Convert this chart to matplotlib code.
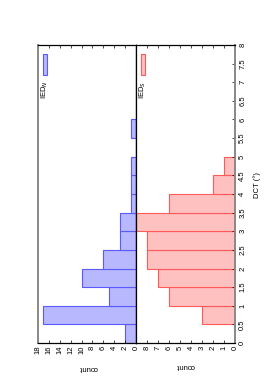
import matplotlib.pyplot as plt
from matplotlib.patches import Rectangle
import numpy as np

plt.rcParams['font.family'] = ['Liberation Sans', 'DejaVu Sans']

bin_edges = np.arange(0, 6, 0.5)
ied_n = [2, 17, 5, 10, 6, 3, 3, 1, 1, 1, 0, 1]
ied_s = [0, 3, 6, 7, 8, 8, 9, 6, 2, 1, 0, 0]

W, H = 273, 389
fig = plt.figure(figsize=(W / 100, H / 100), dpi=100)

y0, y1 = 343, 45
ax_n = fig.add_axes([38 / W, (H - y0) / H, 98 / W, (y0 - y1) / H])
ax_s = fig.add_axes([136 / W, (H - y0) / H, 99 / W, (y0 - y1) / H])

fs = 5.5
ax_n.barh(bin_edges, ied_n, height=0.5, align='edge',
          color='#b8b8ff', edgecolor='#5a5aff', linewidth=0.8)
ax_s.barh(bin_edges, ied_s, height=0.5, align='edge',
          color='#ffc0c0', edgecolor='#ff5a5a', linewidth=0.8)

ax_n.set_xlim(18, 0)
ax_s.set_xlim(9, 0)
for ax in (ax_n, ax_s):
    ax.set_ylim(0, 8)
    for s in ax.spines.values():
        s.set_linewidth(0.9)
        s.set_color('black')

ax_n.spines['left'].set_color('#888888')
ax_n.spines['left'].set_linewidth(1.4)
ax_s.spines['right'].set_color('#888888')
ax_s.spines['right'].set_linewidth(1.4)

ax_n.set_xticks(np.arange(0, 19, 2))
ax_n.set_yticks([])
ax_n.tick_params(axis='x', direction='in', top=True, length=2.5, width=0.5,
                 labelsize=fs, labelrotation=90, pad=2)

ax_s.set_xticks(np.arange(0, 9, 1))
ax_s.set_yticks(np.arange(0, 8.01, 0.5))
ax_s.set_yticklabels(['%g' % v for v in np.arange(0, 8.01, 0.5)])
ax_s.tick_params(axis='x', direction='in', top=True, length=2.5, width=0.5,
                 labelsize=fs, labelrotation=90, pad=2)
ax_s.tick_params(axis='y', direction='in', left=False, right=True,
                 labelleft=False, labelright=True, length=2.5, width=0.5,
                 labelsize=fs, labelrotation=90, pad=3)
for lab in ax_s.get_yticklabels():
    lab.set_va('center')

# legends
ax_n.add_patch(Rectangle((0.051, 0.899), 0.041, 0.071, transform=ax_n.transAxes,
                         facecolor='#b8b8ff', edgecolor='#5a5aff', linewidth=0.8))
ax_n.text(0.072, 0.85, 'IED$_N$', transform=ax_n.transAxes, rotation=90,
          ha='center', va='center', fontsize=fs)
ax_s.add_patch(Rectangle((0.05, 0.899), 0.041, 0.071, transform=ax_s.transAxes,
                         facecolor='#ffc0c0', edgecolor='#ff5a5a', linewidth=0.8))
ax_s.text(0.071, 0.85, 'IED$_S$', transform=ax_s.transAxes, rotation=90,
          ha='center', va='center', fontsize=fs)

fig.text(88 / W, 1 - 368 / H, 'count', rotation=180, ha='center', va='center', fontsize=fs)
fig.text(185 / W, 1 - 365 / H, 'count', rotation=180, ha='center', va='center', fontsize=fs)
fig.text(257 / W, 1 - 185 / H, 'DCT (°)', rotation=90, ha='center', va='center', fontsize=fs)

fig.savefig('out.png', dpi=100)
